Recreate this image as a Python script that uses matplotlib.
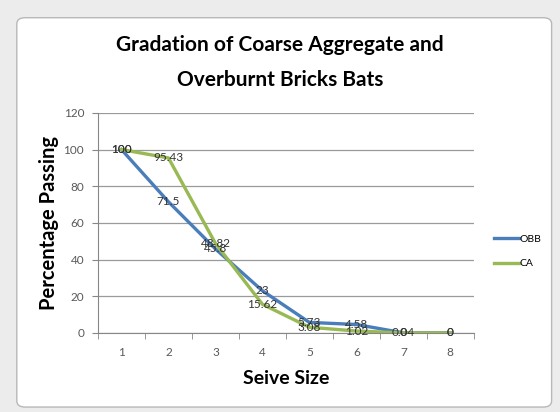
import matplotlib.pyplot as plt
from matplotlib.patches import FancyBboxPatch, Rectangle

plt.rcParams['font.family'] = ['Lato', 'DejaVu Sans']

# sieve positions and percentage passing
sieve = [1, 2, 3, 4, 5, 6, 7, 8]
obb = [100, 71.5, 45.8, 23, 5.73, 4.58, 0.04, 0]
ca = [100, 95.43, 48.82, 15.62, 3.08, 1.02, 0, 0]
obb_lbl = ['100', '71.5', '45.8', '23', '5.73', '4.58', '0.04', '0']
ca_lbl = ['100', '95.43', '48.82', '15.62', '3.08', '1.02', '0', '0']

fig = plt.figure(figsize=(5.6, 4.12), dpi=100)
fig.patch.set_facecolor('#f0f0f0')
# chart area
fig.patches.append(Rectangle((0.0, 0.0), 1, 1, transform=fig.transFigure,
                             facecolor='#ececec', edgecolor='none', zorder=-3))
fig.patches.append(FancyBboxPatch((0.03, 0.012), 0.955, 0.945, boxstyle='round,pad=0,rounding_size=0.015',
                                  transform=fig.transFigure, facecolor='white',
                                  edgecolor='#b8b8b8', lw=1, zorder=-2))

ax = fig.add_axes([0.175, 0.192, 0.671, 0.534])
blue = '#4a7ebb'
green = '#98b954'
ax.plot(sieve, obb, color=blue, lw=2.4, label='OBB', zorder=3)
ax.plot(sieve, ca, color=green, lw=2.4, label='CA', zorder=3)

for x, y, s in zip(sieve, obb, obb_lbl):
    ax.text(x, y, s, ha='center', va='center', fontsize=8.5, color='#333333', zorder=4)
for x, y, s in zip(sieve, ca, ca_lbl):
    ax.text(x, y, s, ha='center', va='center', fontsize=8.5, color='#333333', zorder=4)

ax.set_xlim(0.5, 8.5)
ax.set_ylim(0, 120)
ax.set_yticks(range(0, 121, 20))
ax.set_xticks(sieve)
ax.set_xticks([i + 0.5 for i in range(0, 9)], minor=True)
ax.tick_params(axis='x', which='major', length=0, pad=10, labelsize=8.5, labelcolor='#595959')
ax.tick_params(axis='x', which='minor', length=4, color='#868686', direction='out')
ax.tick_params(axis='y', length=4, color='#868686', labelsize=8.5, labelcolor='#595959', pad=6)
ax.grid(axis='y', color='#9a9a9a', lw=0.9)
ax.set_axisbelow(True)
for sp in ['top', 'right']:
    ax.spines[sp].set_visible(False)
ax.spines['left'].set_color('#868686')
ax.spines['bottom'].set_color('#868686')

ax.set_xlabel('Seive Size', fontsize=14, fontweight='bold', labelpad=9)
ax.set_ylabel('Percentage Passing', fontsize=14.5, fontweight='bold', labelpad=3)
fig.text(0.5, 0.89, 'Gradation of Coarse Aggregate and', ha='center', va='center',
         fontsize=15, fontweight='bold')
fig.text(0.5, 0.805, 'Overburnt Bricks Bats', ha='center', va='center',
         fontsize=15, fontweight='bold')

fig.legend(loc='center left', bbox_to_anchor=(0.865, 0.39), frameon=False, fontsize=7.5,
           handlelength=2.4, handletextpad=0.1, labelspacing=1.45)

fig.savefig('out.png', dpi=100)
